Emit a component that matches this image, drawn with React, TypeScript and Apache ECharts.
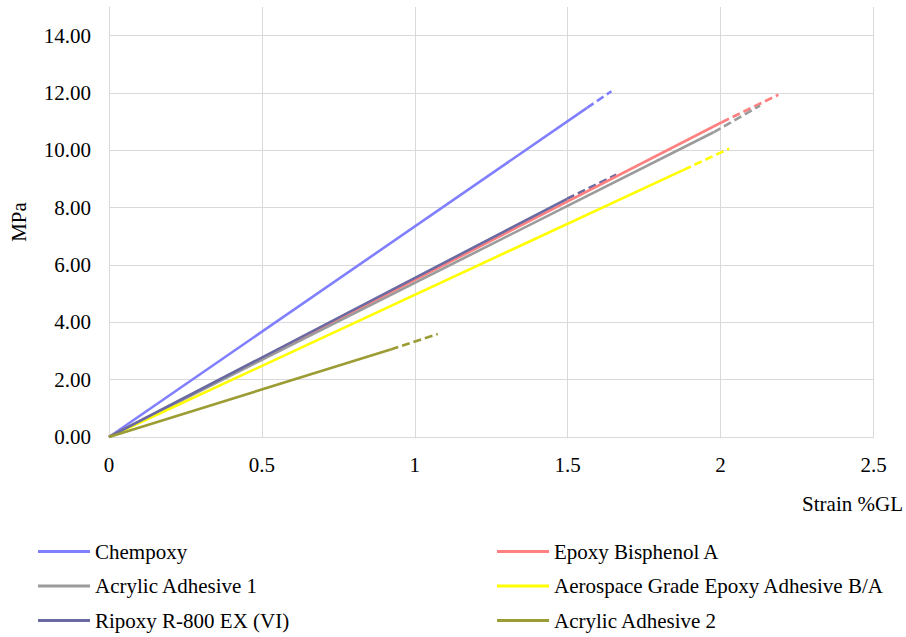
import React, { useEffect, useRef } from "react";
import * as echarts from "echarts";

const seriesNames = [
  "Chempoxy",
  "Epoxy Bisphenol A",
  "Acrylic Adhesive 1",
  "Aerospace Grade Epoxy Adhesive B/A",
  "Ripoxy R-800 EX (VI)",
  "Acrylic Adhesive 2",
];
const colors = ["#8080ff", "#ff8080", "#9b9b9b", "#ffff00", "#6a6aa2", "#9c9c34"];
// measured strain [%GL], stress [MPa]: end of measured segment
const measuredStrain = [1.563, 2.004, 1.977, 1.879, 1.498, 0.921];
const measuredStress = [11.48, 10.98, 10.63, 9.32, 8.31, 3.05];
// extrapolated (dashed) end point
const trendStrain = [1.643, 2.189, 2.129, 2.028, 1.659, 1.075];
const trendStress = [12.06, 11.94, 11.56, 10.06, 9.15, 3.59];
const xTicks = [0, 0.5, 1, 1.5, 2, 2.5];
const yTicks = [0, 2, 4, 6, 8, 10, 12, 14];

const FONT = "Liberation Serif";
const FS = 21;

export default function App() {
  const ref = useRef<HTMLDivElement>(null);
  useEffect(() => {
    if (!ref.current) return;
    const chart = echarts.init(ref.current, null, { renderer: "svg" });
    const series: any[] = [];
    seriesNames.forEach((name, i) => {
      series.push({
        name,
        type: "line",
        data: [
          [0, 0],
          [measuredStrain[i], measuredStress[i]],
        ],
        showSymbol: false,
        symbol: "none",
        lineStyle: { color: colors[i], width: 2.6 },
        itemStyle: { color: colors[i] },
        z: 3,
      });
    });
    seriesNames.forEach((name, i) => {
      series.push({
        name: name + " trend",
        type: "line",
        data: [
          [measuredStrain[i], measuredStress[i]],
          [trendStrain[i], trendStress[i]],
        ],
        showSymbol: false,
        symbol: "none",
        lineStyle: { color: colors[i], width: 2.6, type: [8, 4] },
        itemStyle: { color: colors[i] },
        z: 2,
      });
    });
    const legendCommon = {
      orient: "vertical",
      icon: "rect",
      itemWidth: 52,
      itemHeight: 3,
      itemGap: 13.5,
      padding: 0,
      textStyle: { fontFamily: FONT, fontSize: FS, color: "#000" },
    };
    chart.setOption({
      animation: false,
      textStyle: { fontFamily: FONT },
      grid: { left: 108, right: 32.5, top: 7, bottom: 200, containLabel: false },
      xAxis: {
        type: "value",
        min: xTicks[0],
        max: xTicks[xTicks.length - 1],
        interval: 0.5,
        axisLine: { show: true, lineStyle: { color: "#d9d9d9", width: 1 } },
        axisTick: { show: false },
        splitLine: { show: true, lineStyle: { color: "#d9d9d9", width: 1 } },
        axisLabel: { color: "#000", fontFamily: FONT, fontSize: FS, margin: 17 },
      },
      yAxis: {
        type: "value",
        min: 0,
        max: 15,
        interval: 2,
        name: "MPa",
        nameLocation: "middle",
        nameRotate: 90,
        nameGap: 80,
        nameTextStyle: { color: "#000", fontFamily: FONT, fontSize: FS },
        axisLine: { show: true, lineStyle: { color: "#d9d9d9", width: 1 } },
        axisTick: { show: false },
        splitLine: { show: true, showMaxLine: false, lineStyle: { color: "#d9d9d9", width: 1 } },
        axisLabel: {
          color: "#000",
          fontFamily: FONT,
          fontSize: FS,
          margin: 18,
          showMaxLabel: false,
          formatter: (v: number) => (yTicks.includes(v) ? v.toFixed(2) : ""),
        },
      },
      legend: [
        { ...legendCommon, left: 38, top: 541, data: [seriesNames[0], seriesNames[2], seriesNames[4]] },
        { ...legendCommon, left: 497, top: 541, data: [seriesNames[1], seriesNames[3], seriesNames[5]] },
      ],
      graphic: [
        {
          type: "text",
          right: 3,
          top: 493,
          style: { text: "Strain %GL", fontFamily: FONT, fontSize: FS, fill: "#000" },
        },
      ],
      series,
    });
    return () => chart.dispose();
  }, []);
  return <div ref={ref} style={{ width: 906, height: 637, position: "absolute", left: 0, top: 0 }} />;
}
